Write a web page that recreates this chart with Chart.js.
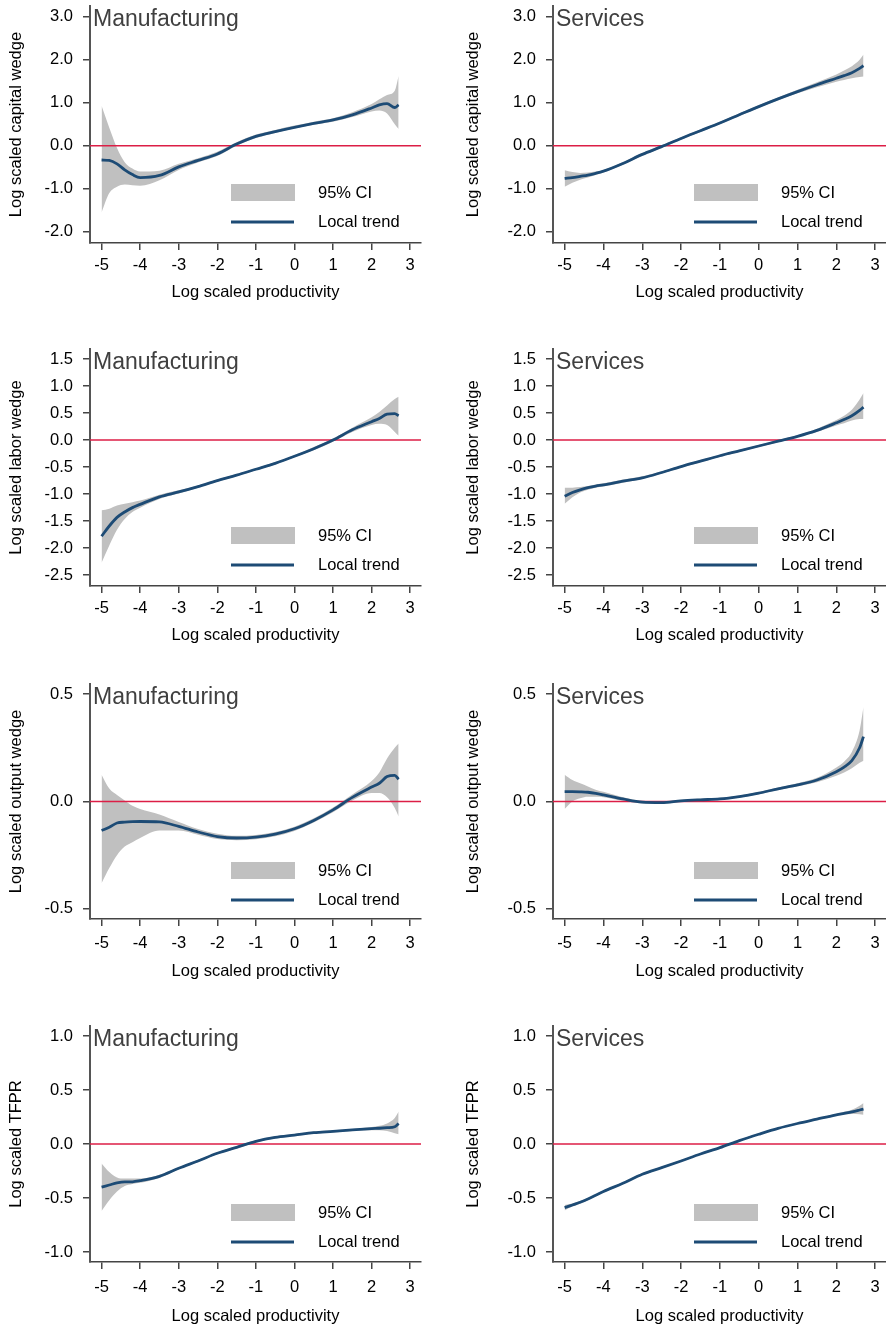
<!DOCTYPE html>
<html>
<head>
<meta charset="utf-8">
<script src="https://cdn.jsdelivr.net/npm/chart.js@4.4.1/dist/chart.umd.min.js"></script>
<style>
body { margin: 0; background: #fff; }
#wrap { position: relative; width: 886px; height: 1330px; overflow: hidden; }
#wrap canvas { position: absolute; }
</style>
</head>
<body>
<div id="wrap"></div>
<script>
// x grid shared by every local-trend curve
const xs = [-5, -4.8, -4.6, -4.4, -4.2, -4, -3.5, -3, -2.5, -2, -1.5, -1, -0.5, 0, 0.5, 1, 1.5, 2, 2.2, 2.4, 2.6, 2.7];
const xTicks = [-5, -4, -3, -2, -1, 0, 1, 2, 3];
const capTicks = [-2, -1, 0, 1, 2, 3];
const labTicks = [-2.5, -2, -1.5, -1, -0.5, 0, 0.5, 1, 1.5];
const outTicks = [-0.5, 0, 0.5];
const tfprTicks = [-1, -0.5, 0, 0.5, 1];

// capital wedge
const mfgCapMean = [-0.33, -0.34, -0.42, -0.56, -0.67, -0.74, -0.69, -0.49, -0.34, -0.19, 0.04, 0.22, 0.33, 0.43, 0.52, 0.60, 0.72, 0.88, 0.95, 0.98, 0.89, 0.95];
const mfgCapLo   = [-1.55, -1.10, -0.95, -0.90, -0.92, -0.93, -0.80, -0.56, -0.39, -0.24, 0.00, 0.18, 0.30, 0.40, 0.49, 0.56, 0.67, 0.80, 0.82, 0.75, 0.50, 0.39];
const mfgCapHi   = [0.93, 0.42, -0.05, -0.38, -0.53, -0.60, -0.58, -0.42, -0.29, -0.14, 0.08, 0.26, 0.37, 0.47, 0.56, 0.64, 0.78, 0.97, 1.08, 1.18, 1.28, 1.62];
const svcCapMean = [-0.76, -0.74, -0.71, -0.68, -0.64, -0.59, -0.41, -0.20, -0.02, 0.17, 0.35, 0.53, 0.72, 0.91, 1.09, 1.26, 1.42, 1.57, 1.63, 1.70, 1.80, 1.86];
const svcCapLo   = [-0.95, -0.86, -0.79, -0.74, -0.68, -0.62, -0.44, -0.23, -0.05, 0.14, 0.32, 0.50, 0.69, 0.88, 1.06, 1.22, 1.36, 1.49, 1.53, 1.57, 1.60, 1.61];
const svcCapHi   = [-0.57, -0.61, -0.63, -0.62, -0.60, -0.56, -0.38, -0.17, 0.01, 0.20, 0.38, 0.56, 0.75, 0.94, 1.12, 1.30, 1.48, 1.66, 1.75, 1.85, 2.00, 2.12];

// labor wedge
const mfgLabMean = [-1.78, -1.59, -1.43, -1.33, -1.25, -1.19, -1.05, -0.96, -0.86, -0.75, -0.65, -0.54, -0.43, -0.30, -0.16, 0.00, 0.19, 0.34, 0.40, 0.48, 0.49, 0.45];
const mfgLabLo   = [-2.27, -1.95, -1.66, -1.46, -1.33, -1.25, -1.09, -0.99, -0.88, -0.77, -0.67, -0.56, -0.45, -0.32, -0.19, -0.03, 0.15, 0.28, 0.30, 0.28, 0.15, 0.08];
const mfgLabHi   = [-1.30, -1.27, -1.21, -1.18, -1.15, -1.12, -1.01, -0.93, -0.84, -0.73, -0.63, -0.52, -0.41, -0.28, -0.13, 0.03, 0.23, 0.42, 0.52, 0.64, 0.76, 0.80];
const svcLabMean = [-1.04, -0.97, -0.92, -0.88, -0.85, -0.83, -0.76, -0.70, -0.60, -0.49, -0.39, -0.29, -0.20, -0.11, -0.02, 0.07, 0.18, 0.32, 0.38, 0.45, 0.55, 0.61];
const svcLabLo   = [-1.18, -1.06, -0.97, -0.92, -0.88, -0.86, -0.79, -0.72, -0.62, -0.51, -0.41, -0.31, -0.22, -0.13, -0.04, 0.05, 0.15, 0.27, 0.31, 0.36, 0.39, 0.39];
const svcLabHi   = [-0.88, -0.88, -0.87, -0.85, -0.82, -0.80, -0.73, -0.67, -0.58, -0.47, -0.37, -0.27, -0.18, -0.09, 0.00, 0.09, 0.21, 0.37, 0.45, 0.56, 0.75, 0.87];

// output wedge
const mfgOutMean = [-0.135, -0.12, -0.10, -0.096, -0.094, -0.093, -0.095, -0.116, -0.142, -0.163, -0.170, -0.166, -0.152, -0.127, -0.088, -0.039, 0.019, 0.067, 0.085, 0.116, 0.122, 0.104];
const mfgOutLo   = [-0.38, -0.31, -0.25, -0.21, -0.19, -0.17, -0.135, -0.135, -0.155, -0.175, -0.18, -0.176, -0.162, -0.137, -0.098, -0.05, 0.005, 0.04, 0.04, 0.02, -0.03, -0.07];
const mfgOutHi   = [0.125, 0.06, 0.03, 0.005, -0.02, -0.035, -0.06, -0.095, -0.128, -0.15, -0.16, -0.156, -0.142, -0.117, -0.078, -0.028, 0.033, 0.095, 0.135, 0.20, 0.25, 0.27];
const svcOutMean = [0.046, 0.046, 0.045, 0.043, 0.038, 0.031, 0.012, -0.003, -0.005, 0.003, 0.008, 0.012, 0.023, 0.039, 0.059, 0.077, 0.10, 0.139, 0.16, 0.19, 0.25, 0.302];
const svcOutLo   = [-0.035, 0.0, 0.015, 0.022, 0.022, 0.02, 0.003, -0.009, -0.01, -0.002, 0.003, 0.007, 0.018, 0.034, 0.053, 0.07, 0.09, 0.12, 0.135, 0.155, 0.18, 0.19];
const svcOutHi   = [0.125, 0.10, 0.085, 0.07, 0.055, 0.045, 0.02, 0.003, 0.0, 0.008, 0.013, 0.017, 0.028, 0.044, 0.065, 0.085, 0.11, 0.158, 0.185, 0.23, 0.33, 0.44];

// TFPR
const mfgTfprMean = [-0.40, -0.38, -0.36, -0.35, -0.35, -0.34, -0.30, -0.225, -0.157, -0.086, -0.031, 0.025, 0.062, 0.083, 0.105, 0.117, 0.13, 0.142, 0.146, 0.151, 0.16, 0.19];
const mfgTfprLo   = [-0.62, -0.52, -0.44, -0.39, -0.37, -0.36, -0.315, -0.235, -0.167, -0.096, -0.041, 0.015, 0.052, 0.073, 0.095, 0.107, 0.12, 0.128, 0.127, 0.12, 0.10, 0.09];
const mfgTfprHi   = [-0.18, -0.26, -0.31, -0.32, -0.32, -0.32, -0.285, -0.215, -0.147, -0.076, -0.021, 0.035, 0.072, 0.093, 0.115, 0.127, 0.14, 0.158, 0.168, 0.19, 0.24, 0.30];
const svcTfprMean = [-0.59, -0.565, -0.54, -0.51, -0.475, -0.44, -0.364, -0.28, -0.219, -0.157, -0.093, -0.034, 0.031, 0.09, 0.145, 0.19, 0.23, 0.27, 0.284, 0.298, 0.315, 0.324];
const svcTfprLo   = [-0.615, -0.58, -0.553, -0.52, -0.485, -0.45, -0.372, -0.288, -0.227, -0.165, -0.1, -0.041, 0.024, 0.083, 0.138, 0.183, 0.222, 0.26, 0.27, 0.278, 0.275, 0.27];
const svcTfprHi   = [-0.565, -0.55, -0.527, -0.5, -0.465, -0.43, -0.356, -0.272, -0.211, -0.149, -0.086, -0.027, 0.038, 0.097, 0.152, 0.197, 0.238, 0.28, 0.298, 0.318, 0.355, 0.38];

const FONT = '"Liberation Sans", Arial, sans-serif';
const BLUE = '#1d4b75';
const RED = '#dc1e46';
const GRAY = '#c0c0c0';
const AXIS = '#444';
const X_MIN = -5.3, X_MAX = 3.28;
const TXT = 16.5;

Chart.defaults.font.family = FONT;

const rows = [
  { top: 0, plotH: 237, yMin: -2.26, yMax: 3.25, ticks: capTicks, label: 'Log scaled capital wedge', tickPad: 5.2, titleOff: 50,
    series: [[mfgCapMean, mfgCapLo, mfgCapHi], [svcCapMean, svcCapLo, svcCapHi]] },
  { top: 343, plotH: 237, yMin: -2.7, yMax: 1.685, ticks: labTicks, label: 'Log scaled labor wedge', tickPad: 5.2, titleOff: 50,
    series: [[mfgLabMean, mfgLabLo, mfgLabHi], [svcLabMean, svcLabLo, svcLabHi]] },
  { top: 678, plotH: 235, yMin: -0.547, yMax: 0.547, ticks: outTicks, label: 'Log scaled output wedge', tickPad: 7.2, titleOff: 53,
    series: [[mfgOutMean, mfgOutLo, mfgOutHi], [svcOutMean, svcOutLo, svcOutHi]] },
  { top: 1020, plotH: 236, yMin: -1.093, yMax: 1.093, ticks: tfprTicks, label: 'Log scaled TFPR', tickPad: 8.2, titleOff: 55,
    series: [[mfgTfprMean, mfgTfprLo, mfgTfprHi], [svcTfprMean, svcTfprLo, svcTfprHi]] }
];
const cols = [
  { left: 0, width: 443, axisW: 90, padR: 22, name: 'Manufacturing' },
  { left: 457, width: 429, axisW: 96, padR: 0, name: 'Services' }
];

const pts = ys => xs.map((x, i) => ({ x: x, y: ys[i] }));

// panel name in the top-left corner plus the little legend inside the plot
const decoPlugin = {
  id: 'deco',
  afterDraw(chart, args, opts) {
    const { ctx, chartArea: a } = chart;
    ctx.save();
    ctx.fillStyle = '#404040';
    ctx.font = '23px ' + FONT;
    ctx.textBaseline = 'alphabetic';
    ctx.textAlign = 'left';
    ctx.fillText(opts.name, a.left + 3, a.top + 20);

    const lx = a.left + 141;
    ctx.fillStyle = GRAY;
    ctx.fillRect(lx, a.top + 178, 64, 17);
    ctx.strokeStyle = BLUE;
    ctx.lineWidth = 2.8;
    ctx.beginPath();
    ctx.moveTo(lx, a.top + 216);
    ctx.lineTo(lx + 63, a.top + 216);
    ctx.stroke();

    ctx.fillStyle = '#000';
    ctx.font = TXT + 'px ' + FONT;
    ctx.textBaseline = 'middle';
    ctx.fillText('95% CI', a.left + 228, a.top + 187);
    ctx.fillText('Local trend', a.left + 228, a.top + 216);
    ctx.restore();
  }
};

const wrap = document.getElementById('wrap');

rows.forEach(row => cols.forEach((col, c) => {
  const [mean, lo, hi] = row.series[c];
  const xH = row.titleOff + 12;
  const cv = document.createElement('canvas');
  cv.width = col.width;
  cv.height = 6 + row.plotH + xH;
  cv.style.left = col.left + 'px';
  cv.style.top = row.top + 'px';
  wrap.appendChild(cv);

  new Chart(cv, {
    type: 'line',
    data: {
      datasets: [
        { data: pts(mean), borderColor: BLUE, borderWidth: 2.8, pointRadius: 0, cubicInterpolationMode: 'monotone', fill: false },
        { data: [{ x: X_MIN, y: 0 }, { x: X_MAX, y: 0 }], borderColor: RED, borderWidth: 1.6, pointRadius: 0, fill: false },
        { data: pts(hi), borderColor: 'rgba(0,0,0,0)', borderWidth: 1, pointRadius: 0, cubicInterpolationMode: 'monotone', fill: '+1', backgroundColor: GRAY },
        { data: pts(lo), borderColor: 'rgba(0,0,0,0)', borderWidth: 1, pointRadius: 0, cubicInterpolationMode: 'monotone', fill: false }
      ]
    },
    options: {
      responsive: false,
      animation: false,
      layout: { padding: { top: 6, right: col.padR, left: 0, bottom: 0 } },
      plugins: {
        legend: { display: false },
        tooltip: { enabled: false },
        deco: { name: col.name }
      },
      scales: {
        x: {
          type: 'linear',
          min: X_MIN,
          max: X_MAX,
          afterBuildTicks: s => { s.ticks = xTicks.map(v => ({ value: v })); },
          afterFit: s => { s.height = xH; s.paddingLeft = 0; s.paddingRight = 0; },
          ticks: { padding: row.tickPad, color: '#000', font: { size: TXT }, maxRotation: 0, autoSkip: false, callback: v => String(v) },
          grid: { drawOnChartArea: false, drawTicks: true, tickLength: 7, color: AXIS, lineWidth: 1.5 },
          border: { display: true, color: AXIS, width: 1.5 },
          title: { display: true, text: 'Log scaled productivity', color: '#000', font: { size: TXT, lineHeight: 1.25 }, padding: { top: 0, bottom: 2 } }
        },
        y: {
          type: 'linear',
          min: row.yMin,
          max: row.yMax,
          afterBuildTicks: s => { s.ticks = row.ticks.map(v => ({ value: v })); },
          afterFit: s => { s.width = col.axisW; s.paddingTop = 0; s.paddingBottom = 0; },
          ticks: { padding: 10, color: '#000', font: { size: TXT }, autoSkip: false, callback: v => v.toFixed(1) },
          grid: { drawOnChartArea: false, drawTicks: true, tickLength: 7, color: AXIS, lineWidth: 1.5 },
          border: { display: true, color: '#555', width: 2 },
          title: { display: true, text: row.label, color: '#000', font: { size: TXT, lineHeight: 1.25 }, padding: { top: 6, bottom: 0 } }
        }
      }
    },
    plugins: [decoPlugin]
  });
}));
</script>
</body>
</html>
